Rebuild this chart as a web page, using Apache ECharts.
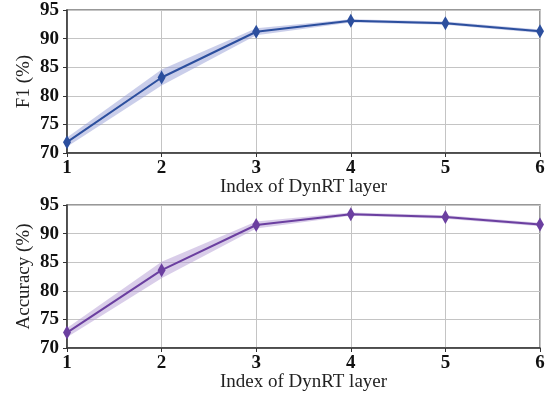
<!DOCTYPE html>
<html>
<head>
<meta charset="utf-8">
<script src="https://cdn.jsdelivr.net/npm/echarts@6/dist/echarts.min.js"></script>
<style>
  html, body { margin: 0; padding: 0; background: #fff; }
  #main { width: 550px; height: 403px; }
</style>
</head>
<body>
<div id="main"></div>
<script>
// layer index
var layers = ['1', '2', '3', '4', '5', '6'];

// F1 mean and band
var f1Mean = [71.9, 83.2, 91.2, 93.1, 92.7, 91.3];
var f1Low  = [71.1, 81.8, 90.6, 92.8, 92.4, 91.0];
var f1High = [72.7, 84.6, 91.8, 93.4, 93.0, 91.6];

// Accuracy mean and band
var accMean = [72.7, 83.6, 91.5, 93.4, 92.9, 91.6];
var accLow  = [71.9, 82.2, 90.9, 93.1, 92.6, 91.3];
var accHigh = [73.5, 85.1, 92.1, 93.7, 93.2, 91.9];

var yTicks = [70, 75, 80, 85, 90, 95];

var font = 'Liberation Serif';

function diff(hi, lo) {
    var out = [];
    for (var i = 0; i < hi.length; i++) {
        out.push(+(hi[i] - lo[i]).toFixed(2));
    }
    return out;
}

function xAxisOf(idx) {
    return {
        type: 'category',
        gridIndex: idx,
        data: layers,
        boundaryGap: false,
        name: 'Index of DynRT layer',
        nameLocation: 'middle',
        nameGap: 25,
        nameMoveOverlap: false,
        nameTextStyle: {fontFamily: font, fontSize: 19, color: '#222'},
        axisLine: {lineStyle: {color: '#333', width: 1.5}},
        axisTick: {show: true, length: 4, lineStyle: {color: '#333'}},
        axisLabel: {fontFamily: font, fontSize: 19, fontWeight: 'bold', color: '#111', margin: 6},
        splitLine: {show: true, lineStyle: {color: '#c4c4c4', width: 1}}
    };
}

function yAxisOf(idx, title) {
    return {
        type: 'value',
        gridIndex: idx,
        min: yTicks[0],
        max: yTicks[yTicks.length - 1],
        interval: 5,
        name: title,
        nameLocation: 'middle',
        nameGap: 33,
        nameMoveOverlap: false,
        nameTextStyle: {fontFamily: font, fontSize: 19, color: '#222'},
        axisLine: {show: true, lineStyle: {color: '#333', width: 1.5}},
        axisTick: {show: true, length: 4, lineStyle: {color: '#333'}},
        axisLabel: {fontFamily: font, fontSize: 19, fontWeight: 'bold', color: '#111', margin: 8},
        splitLine: {show: true, lineStyle: {color: '#c4c4c4', width: 1}}
    };
}

function bandSeries(idx, lo, hi, color, key) {
    return [
        {
            type: 'line', xAxisIndex: idx, yAxisIndex: idx,
            data: lo, stack: key, symbol: 'none', silent: true,
            lineStyle: {opacity: 0}
        },
        {
            type: 'line', xAxisIndex: idx, yAxisIndex: idx,
            data: diff(hi, lo), stack: key, symbol: 'none', silent: true,
            lineStyle: {opacity: 0},
            areaStyle: {color: color, opacity: 1}
        }
    ];
}

function meanSeries(idx, data, color) {
    return {
        type: 'line', xAxisIndex: idx, yAxisIndex: idx,
        data: data,
        symbol: 'diamond',
        symbolSize: [8, 14],
        itemStyle: {color: color},
        lineStyle: {color: color, width: 2},
        z: 5
    };
}

var chart = echarts.init(document.getElementById('main'));

var option = {
    backgroundColor: '#fff',
    animation: false,
    grid: [
        {left: 67, right: 10, top: 10, height: 143, show: true, borderColor: '#777', borderWidth: 1.5},
        {left: 67, right: 10, top: 205, height: 143, show: true, borderColor: '#777', borderWidth: 1.5}
    ],
    xAxis: [xAxisOf(0), xAxisOf(1)],
    yAxis: [yAxisOf(0, 'F1 (%)'), yAxisOf(1, 'Accuracy (%)')],
    series: []
        .concat(bandSeries(0, f1Low, f1High, 'rgba(150,158,214,0.5)', 'f1'))
        .concat([meanSeries(0, f1Mean, '#2c4f9e')])
        .concat(bandSeries(1, accLow, accHigh, 'rgba(180,156,212,0.5)', 'acc'))
        .concat([meanSeries(1, accMean, '#6b3fa0')])
};

chart.setOption(option);
</script>
</body>
</html>
